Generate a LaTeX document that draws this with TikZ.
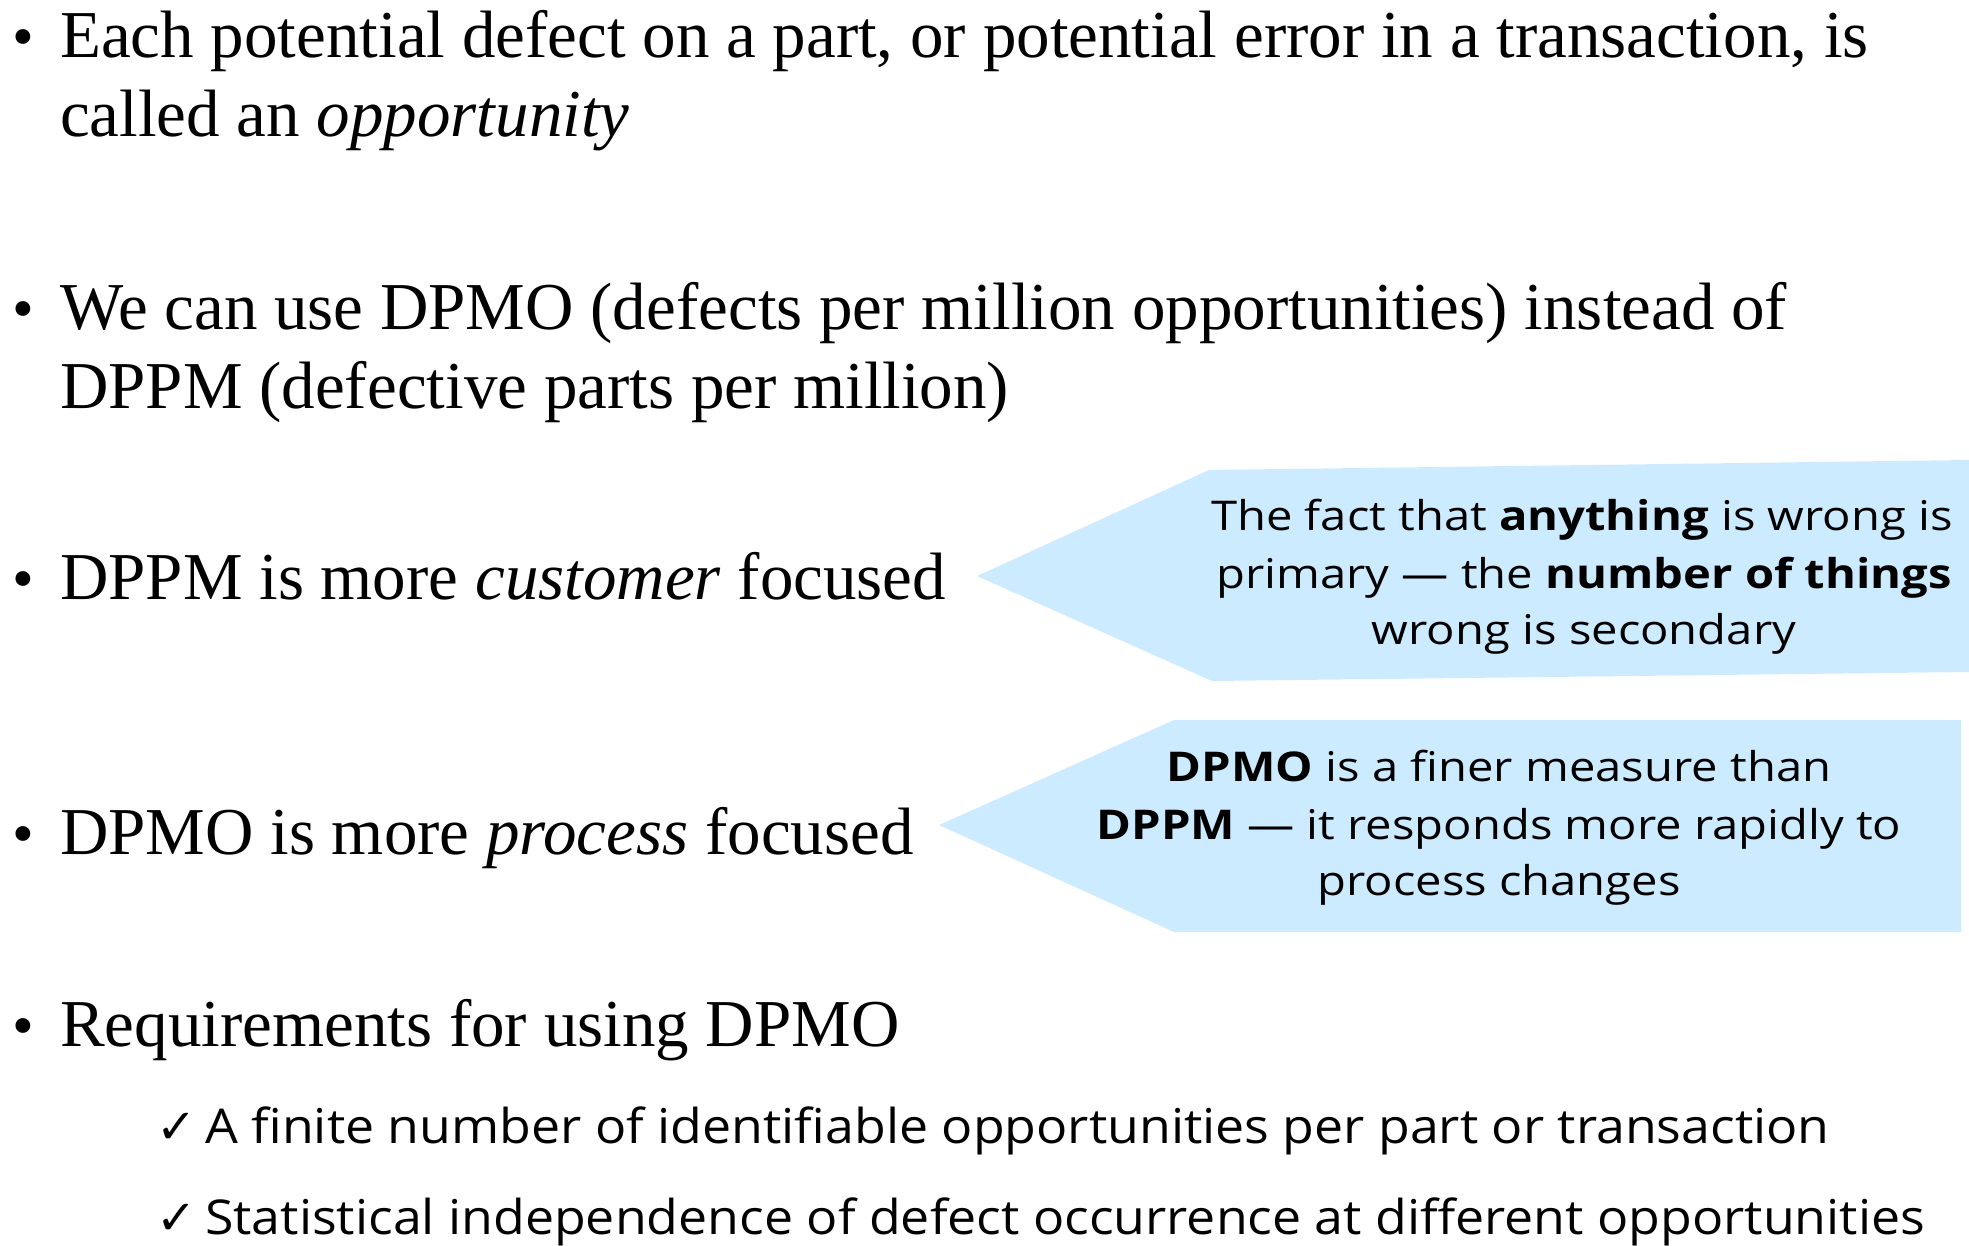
\documentclass[tikz,border=0pt]{standalone}
\usepackage{fontspec}
\setmainfont{Liberation Serif}
\newfontfamily\comic[FakeStretch=1.15]{Open Sans}
\newfontfamily\comicb[FakeStretch=1.08]{Open Sans}
\newfontfamily\symf{DejaVu Sans}
\definecolor{callout}{RGB}{204,235,255}
\begin{document}
\begin{tikzpicture}[x=1pt,y=-1pt,
  main/.style={anchor=base west,inner sep=0pt,font=\fontsize{67}{79}\selectfont},
  bul/.style={anchor=base west,inner sep=0pt,font=\fontsize{62}{79}\selectfont},
  ctext/.style={anchor=base,inner sep=0pt,font=\comic\fontsize{41}{57}\selectfont},
  chk/.style={anchor=base west,inner sep=0pt,font=\comicb\fontsize{48}{60}\selectfont},
  calloutfill/.style={fill=callout,draw=none}]
\useasboundingbox (0,0) rectangle (1969,1245);
% bullets
\node[bul] (b1) at (12,57) {\textbullet};
\node[main] (t1a) at (60,57) {Each potential defect on a part, or potential error in a transaction, is};
\node[main] (t1b) at (60,136) {called an \textit{opportunity}};
\node[bul] (b2) at (12,329) {\textbullet};
\node[main] (t2a) at (60,329) {We can use DPMO (defects per million opportunities) instead of};
\node[main] (t2b) at (60,408) {DPPM (defective parts per million)};
\node[bul] (b3) at (12,599) {\textbullet};
\node[main] (t3) at (60,599) {DPPM is more \textit{customer} focused};
\node[bul] (b4) at (12,854) {\textbullet};
\node[main] (t4) at (60,854) {DPMO is more \textit{process} focused};
\node[bul] (b5) at (12,1046) {\textbullet};
\node[main] (t5) at (60,1046) {Requirements for using DPMO};
% callout 1
\fill[calloutfill] (977,576) -- (1209,470) -- (1969,460) -- (1969,672) -- (1212,681) -- cycle;
\node[ctext] (c1a) at (1582,530) {The fact that \textbf{anything} is wrong is};
\node[ctext] (c1b) at (1584,588) {primary — the \textbf{number of things}};
\node[ctext] (c1c) at (1584,644) {wrong is secondary};
% callout 2
\fill[calloutfill] (939,825) -- (1174,720) -- (1961,720) -- (1961,932) -- (1174,932) -- cycle;
\node[ctext] (c2a) at (1499,781) {\textbf{DPMO} is a finer measure than};
\node[ctext] (c2b) at (1499,839) {\textbf{DPPM} — it responds more rapidly to};
\node[ctext] (c2c) at (1499,895) {process changes};
% checks
\node[chk] (k1m) at (156,1143) {\symf ✓};
\node[chk] (k1) at (205,1143) {A finite number of identifiable opportunities per part or transaction};
\node[chk] (k2m) at (156,1234) {\symf ✓};
\node[chk] (k2) at (205,1234) {Statistical independence of defect occurrence at different opportunities};
\end{tikzpicture}
\end{document}
